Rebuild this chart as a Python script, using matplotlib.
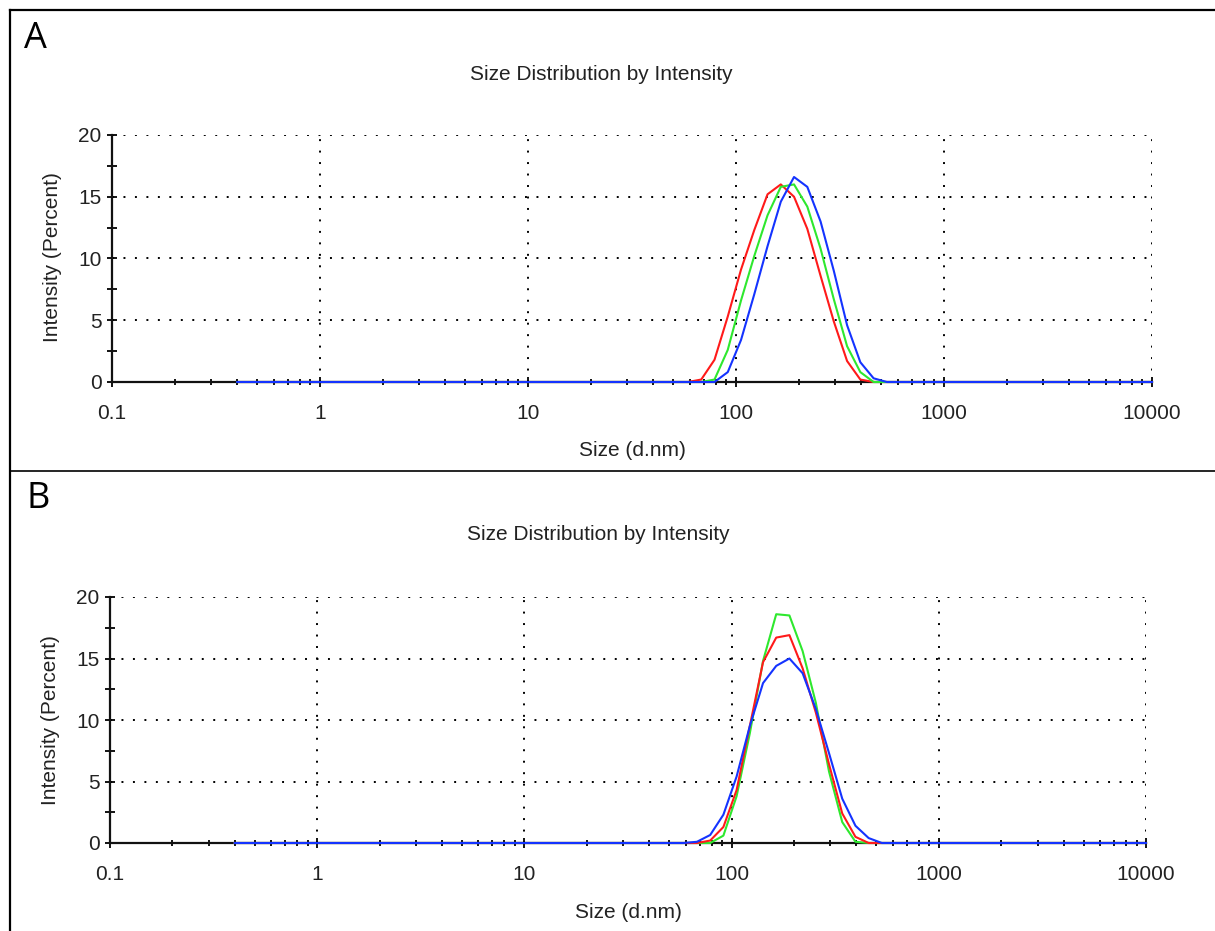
import matplotlib
matplotlib.use("Agg")
from matplotlib import pyplot as plt
from matplotlib.lines import Line2D
from matplotlib.ticker import LogLocator, MultipleLocator, NullFormatter

plt.rcParams['font.family'] = ['Liberation Sans', 'DejaVu Sans']

# size classes (d.nm) around the peak, plus the ends of the measured range
sizes = [0.4, 50.75, 58.77, 68.06, 78.82, 91.28, 105.7, 122.4, 141.8, 164.2,
         190.1, 220.2, 255.0, 295.3, 342.0, 396.1, 458.7, 531.2, 615.1, 10000]

# panel A, intensity (%)
a_red = [0, 0, 0, 0.2, 1.8, 5.3, 9.1, 12.3, 15.2, 16.0,
         15.0, 12.4, 8.6, 4.9, 1.7, 0.2, 0, 0, 0, 0]
a_green = [0, 0, 0, 0, 0.2, 2.6, 6.6, 10.2, 13.5, 15.8,
           16.0, 14.2, 10.8, 6.7, 2.9, 0.8, 0, 0, 0, 0]
a_blue = [0, 0, 0, 0, 0, 0.8, 3.4, 7.1, 11.0, 14.6,
          16.6, 15.8, 13.0, 9.0, 4.6, 1.6, 0.3, 0, 0, 0]

# panel B, intensity (%)
b_red = [0, 0, 0, 0, 0.2, 1.3, 4.3, 9.5, 14.7, 16.7,
         16.9, 14.2, 10.6, 6.4, 2.4, 0.5, 0, 0, 0, 0]
b_green = [0, 0, 0, 0, 0, 0.6, 3.8, 8.9, 14.8, 18.6,
           18.5, 15.6, 11.4, 5.8, 1.7, 0.1, 0, 0, 0, 0]
b_blue = [0, 0, 0, 0.1, 0.65, 2.3, 5.4, 9.5, 13.0, 14.4,
          15.0, 13.8, 10.9, 7.3, 3.6, 1.4, 0.4, 0, 0, 0]

x_ticks = [0.1, 1, 10, 100, 1000, 10000]
x_labels = ["0.1", "1", "10", "100", "1000", "10000"]
y_ticks = [0, 5, 10, 15, 20]

W, H = 1215, 931
fig = plt.figure(figsize=(W / 100, H / 100), dpi=100)


def fx(px):
    return px / W


def fy(py):
    return 1 - py / H


def make_panel(left, right, top, bottom, series):
    ax = fig.add_axes([fx(left), fy(bottom), fx(right - left), (bottom - top) / H])
    for vals, col in series:
        ax.plot(sizes, vals, color=col, lw=1.5, zorder=3, clip_on=False)
    ax.set_xscale("log")
    ax.set_xlim(0.1, 10000)
    ax.set_ylim(0, 20)
    ax.set_xticks(x_ticks)
    ax.set_xticklabels(x_labels)
    ax.xaxis.set_minor_locator(LogLocator(base=10, subs=range(2, 10)))
    ax.xaxis.set_minor_formatter(NullFormatter())
    ax.set_yticks(y_ticks)
    ax.yaxis.set_minor_locator(MultipleLocator(2.5))
    ax.tick_params(axis="both", which="major", direction="inout", length=7,
                   width=1.3, labelsize=15, labelcolor="#222222")
    ax.tick_params(axis="x", which="major", pad=12)
    ax.tick_params(axis="y", which="major", pad=4)
    ax.tick_params(axis="x", which="minor", direction="inout", length=4.5, width=1.3)
    ax.tick_params(axis="y", which="minor", direction="inout", length=7, width=1.3)
    for s in ["top", "right"]:
        ax.spines[s].set_visible(False)
    for s in ["left", "bottom"]:
        ax.spines[s].set_linewidth(1.6)
        ax.spines[s].set_color("#111111")
    ax.grid(True, which="major", color="black", lw=1.4, linestyle=(0, (1, 4.9)))
    ax.set_axisbelow(True)
    ax.patch.set_visible(False)
    return ax


red, green, blue = "#ff1a1a", "#2ee82e", "#1433ff"

make_panel(112, 1152, 135, 382, [(a_red, red), (a_green, green), (a_blue, blue)])
make_panel(110, 1146, 597, 843, [(b_green, green), (b_red, red), (b_blue, blue)])

# texts
for (tx, ty), txt in [((601, 74), "Size Distribution by Intensity"),
                      ((598, 535), "Size Distribution by Intensity")]:
    fig.text(fx(tx), fy(ty), txt, ha="center", va="center", fontsize=15, color="#222222")
fig.text(fx(632), fy(450), "Size (d.nm)", ha="center", va="center", fontsize=15, color="#222222")
fig.text(fx(628), fy(912), "Size (d.nm)", ha="center", va="center", fontsize=15, color="#222222")
fig.text(fx(53), fy(257), "Intensity (Percent)", ha="center", va="center",
         rotation=90, fontsize=15, color="#222222")
fig.text(fx(51), fy(720), "Intensity (Percent)", ha="center", va="center",
         rotation=90, fontsize=15, color="#222222")
fig.text(fx(24), fy(39), "A", ha="left", va="center", fontsize=26, family="Open Sans")
fig.text(fx(26), fy(499), "B", ha="left", va="center", fontsize=26, family="Open Sans")

# panel frame lines
fig.add_artist(Line2D([fx(10), 1], [fy(10), fy(10)], color="black", lw=1.6))
fig.add_artist(Line2D([fx(10), fx(10)], [0, fy(10)], color="black", lw=1.6))
fig.add_artist(Line2D([fx(10), 1], [fy(471), fy(471)], color="black", lw=1.2))

fig.savefig("out.png", dpi=100)
